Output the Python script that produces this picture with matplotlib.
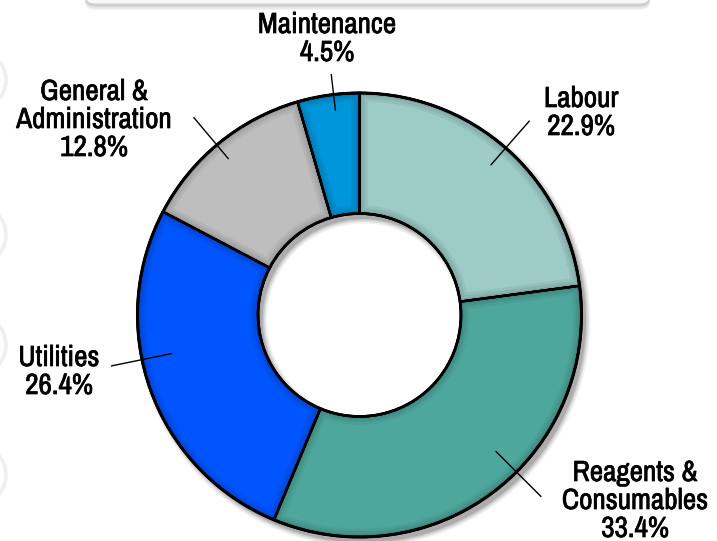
import numpy as np
import matplotlib
matplotlib.use("Agg")
import matplotlib.pyplot as plt
import matplotlib.patheffects as pe
from matplotlib import font_manager as fm
from matplotlib.patches import Wedge, Circle, FancyBboxPatch

# ----------------------------------------------------------------------------
# Cost breakdown (clockwise from 12 o'clock)

categories = ["Labour", "Reagents &\nConsumables", "Utilities",
              "General &\nAdministration", "Maintenance"]
shares = [22.9, 33.4, 26.4, 12.8, 4.5]
colors = ["#9dcbc6", "#4ea79c", "#0055ff", "#bebebe", "#0096dc"]

# ----------------------------------------------------------------------------
# Layout helpers (pixel space of a 717x541 canvas, pie centre / radius)

W, H = 717, 541
CX, CY, R = 359.5, 315.0, 222.0
HOLE = 0.457

def px(x, y):
    """Pixel position -> data coords where the pie has radius 1."""
    return (x - CX) / R, (CY - y) / R

# label anchor (centre x, first baseline y) in px, leader angle and radii
label_pos = [(581, 107), (635, 481), (59, 366), (94, 100), (327, 33)]
leaders = [(48.8, 0.90, 1.16), (-45.0, 0.87, 1.155), (191.6, 0.865, 1.14),
           (130.0, 0.92, 1.16), (96.7, 0.93, 1.09)]
LINE_PX = 28

# narrow face for the labels, first one that is installed
font_names = {f.name for f in fm.fontManager.ttflist}
LABEL_FONT = next((n for n in ["Liberation Sans Narrow", "Archivo Narrow", "Roboto Condensed"]
                   if n in font_names), "DejaVu Sans")
# a touch of extra weight on the glyphs
heavy = [pe.withStroke(linewidth=0.5, foreground="black")]

fig = plt.figure(figsize=(W / 100, H / 100), dpi=100)
ax = fig.add_axes([0, 0, 1, 1])

# faint shapes peeking in from the left edge
for yy in [80, 235, 345, 475]:
    ax.add_patch(Circle(px(-24, yy), 30 / R, facecolor="none",
                        edgecolor="#efefef", lw=2.5, zorder=0))

# top box, mostly off-canvas, with a soft shadow
for i, a in enumerate([0.05, 0.05, 0.06, 0.07]):
    off = (4 - i) * 1.5
    fig.patches.append(FancyBboxPatch((85 / W, 1 - (4 + off) / H), 565 / W, 60 / H,
                                      boxstyle="round,pad=0,rounding_size=0.015",
                                      transform=fig.transFigure, facecolor="black",
                                      edgecolor="none", alpha=a, zorder=1))
fig.patches.append(FancyBboxPatch((85 / W, 1 - 4 / H), 565 / W, 60 / H,
                                  boxstyle="round,pad=0,rounding_size=0.015",
                                  transform=fig.transFigure, facecolor="#f8f8f8",
                                  edgecolor="#d6d6d6", lw=0.8, zorder=2))

# soft drop shadow under the ring
sx, sy = 4 / R, -5 / R
for k, a in [(5, 0.05), (3.5, 0.07), (2, 0.10), (0.5, 0.14)]:
    ax.add_patch(Wedge((sx, sy), 1 + k / R, 0, 360, width=1 - HOLE + 2 * k / R,
                       facecolor="black", edgecolor="none", alpha=a, zorder=1))

wedges, _ = ax.pie(shares, colors=colors, startangle=90, counterclock=False,
                   radius=1, wedgeprops=dict(width=1 - HOLE, edgecolor="black",
                                             linewidth=1.7, zorder=3))

# darker bevel along the inside of every segment
for w in wedges:
    for lw, a in [(12, 0.05), (8, 0.06), (4, 0.08)]:
        bevel = Wedge(w.center, w.r, w.theta1, w.theta2, width=w.width,
                      facecolor="none", edgecolor="black", lw=lw, alpha=a, zorder=3.5)
        ax.add_patch(bevel)
        bevel.set_clip_path(w)
    edge = Wedge(w.center, w.r, w.theta1, w.theta2, width=w.width,
                 facecolor="none", edgecolor="black", lw=1.7, zorder=4)
    ax.add_patch(edge)

ax.add_patch(Circle((0, 0), 1, facecolor="none", edgecolor="black", lw=2.2, zorder=4))
ax.add_patch(Circle((0, 0), HOLE, facecolor="none", edgecolor="black", lw=2.0, zorder=4))

# labels and leader lines
for name, val, (lx, ly), (ang, r0, r1) in zip(categories, shares, label_pos, leaders):
    t = np.deg2rad(ang)
    ax.plot([r0 * np.cos(t), r1 * np.cos(t)], [r0 * np.sin(t), r1 * np.sin(t)],
            color="black", lw=1.0, zorder=5)
    lines = name.split("\n") + [f"{val:.1f}%"]
    for i, s in enumerate(lines):
        x, y = px(lx, ly + i * LINE_PX)
        ax.text(x, y, s, ha="center", va="baseline", fontsize=21,
                family=LABEL_FONT, fontweight="bold", color="black",
                path_effects=heavy, zorder=6)

# pie() resets the limits, so fix the canvas mapping afterwards
ax.set_xlim(px(0, 0)[0], px(W, 0)[0])
ax.set_ylim(px(0, H)[1], px(0, 0)[1])
ax.set_aspect("equal")
ax.axis("off")

fig.savefig("out.png", dpi=100)
